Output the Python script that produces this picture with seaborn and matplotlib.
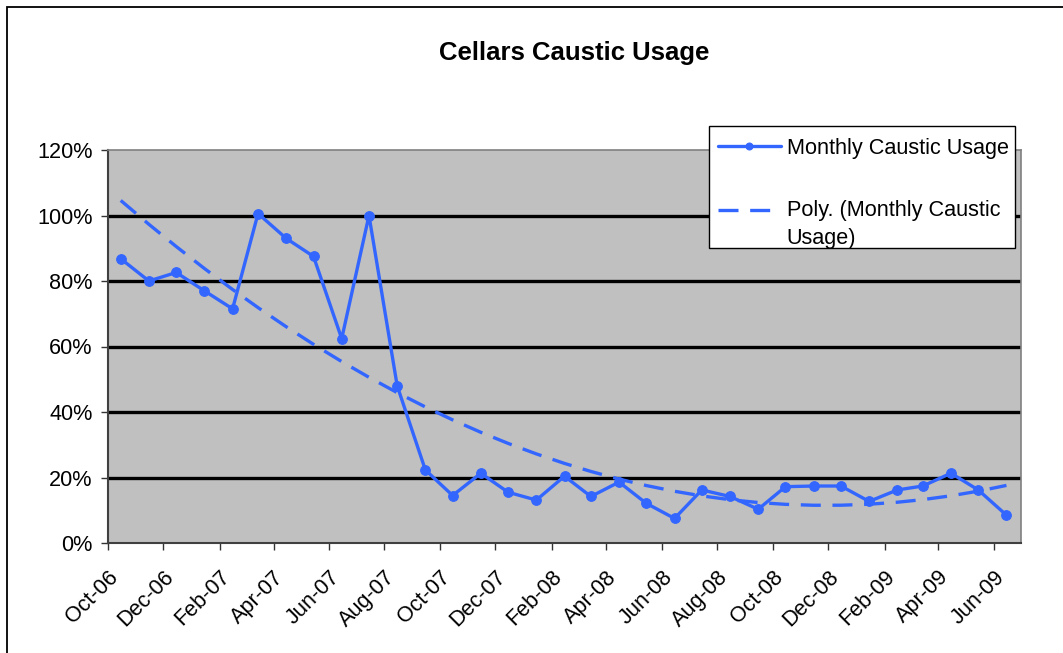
#!/usr/bin/env python3
import numpy as np
import pandas as pd
import seaborn as sns
import matplotlib.dates as mdates
from matplotlib import pyplot as plt
from matplotlib.legend_handler import HandlerLine2D
from matplotlib.patches import Rectangle
from matplotlib.ticker import FuncFormatter, MultipleLocator

usage = [86.8, 80.0, 82.6, 77.0, 71.5, 100.6, 93.0, 87.5, 62.4, 100.0, 48.0,
         22.3, 14.5, 21.3, 15.5, 13.1, 20.4, 14.2, 18.6, 12.1, 7.5, 16.2,
         14.2, 10.3, 17.2, 17.4, 17.4, 12.7, 16.2, 17.4, 21.3, 16.2, 8.5]
months = pd.date_range("2006-10-01", periods=len(usage), freq="MS") + pd.Timedelta(days=14)
series_label = "Monthly Caustic Usage"
trend_label = "Poly. (Monthly Caustic\nUsage)"
title = "Cellars Caustic Usage"

BLUE = "#3366FF"
FONT = "Liberation Sans"
FS = 15.6
W, H = 1063, 653

df = pd.DataFrame({"month": months, "usage": usage})
# 2nd order polynomial trendline fitted on the data, like the spreadsheet does
xnum = mdates.date2num(df.month)
xc = (xnum - xnum.mean()) / xnum.std()
df["trend"] = np.polyval(np.polyfit(xc, df.usage, 2), xc)


class RaisedHandler(HandlerLine2D):
    # put the handle next to the first line of a two-line label
    def create_artists(self, legend, orig_handle, xdescent, ydescent, width, height, fontsize, trans):
        arts = super().create_artists(legend, orig_handle, xdescent, ydescent, width, height, fontsize, trans)
        for a in arts:
            a.set_ydata(np.asarray(a.get_ydata()) + 0.68 * fontsize)
        return arts


sns.set_style("white")
plt.rcParams["font.family"] = [FONT, "DejaVu Sans"]
plt.rcParams["text.color"] = "black"
plt.rcParams["xtick.color"] = "black"
plt.rcParams["ytick.color"] = "black"

fig = plt.figure(figsize=(W / 100, H / 100), dpi=100)
ax = fig.add_axes([108 / W, 1 - 543 / H, (1021 - 108) / W, (543 - 150) / H])
ax.set_facecolor("#C0C0C0")

sns.lineplot(data=df, x="month", y="trend", ax=ax, color=BLUE, lw=2.4,
             linestyle=(0, (6, 3.5)), label=trend_label, zorder=3)
sns.lineplot(data=df, x="month", y="usage", ax=ax, color=BLUE, lw=2.4,
             marker="o", markersize=7, markeredgecolor=BLUE, label=series_label, zorder=4)

ax.set_ylim(0, 120)
ax.set_xlim(pd.Timestamp("2006-10-01"), pd.Timestamp("2009-07-01"))
ax.yaxis.set_major_locator(MultipleLocator(20))
ax.yaxis.set_major_formatter(FuncFormatter(lambda v, p: f"{v:.0f}%"))
ax.xaxis.set_major_locator(mdates.MonthLocator(bymonth=[2, 4, 6, 8, 10, 12]))
ax.xaxis.set_major_formatter(mdates.DateFormatter("%b-%y"))
for v in range(20, 120, 20):
    ax.axhline(v, color="black", lw=2.4, zorder=1)

ax.set_xlabel("")
ax.set_ylabel("")
ax.tick_params(axis="both", direction="out", length=5, width=1, color="#333333",
               labelsize=FS, pad=6, left=True, bottom=True)
ax.tick_params(axis="x", pad=12)
plt.setp(ax.get_xticklabels(), rotation=45, ha="right", rotation_mode="anchor")
for side in ("left", "bottom"):
    ax.spines[side].set_color("#404040")
    ax.spines[side].set_linewidth(1.5)
for side in ("right", "top"):
    ax.spines[side].set_color("#808080")
    ax.spines[side].set_linewidth(1.2)

fig.text(574 / W, 1 - 53 / H, title, ha="center", va="center",
         fontsize=18.5, fontweight="bold")

# legend box drawn separately so its size matches the original
fig.patches.append(Rectangle((709 / W, 1 - 248 / H), (1015 - 709) / W, (248 - 126) / H,
                             transform=fig.transFigure, facecolor="white",
                             edgecolor="black", lw=1, zorder=4.5))
handles, labels = ax.get_legend_handles_labels()
ax.get_legend().remove()
leg = fig.legend(handles[::-1], labels[::-1], loc="upper left",
                 bbox_to_anchor=(706 / W, 1 - 126 / H), fontsize=FS,
                 frameon=False, handlelength=2.9, labelspacing=1.9,
                 borderpad=0.55, handletextpad=0.27, borderaxespad=0,
                 handler_map={handles[0]: RaisedHandler()})
leg.set_zorder(5)
for t in leg.get_texts():
    t.set_linespacing(1.45)
for h in leg.legend_handles:
    h.set_markersize(5)

fig.patches.append(Rectangle((7 / W, -0.1), 1.2, 1 - 7 / H + 0.1, transform=fig.transFigure,
                             fill=False, edgecolor="black", lw=1.3))

fig.savefig("out.png", dpi=100, facecolor="white")
